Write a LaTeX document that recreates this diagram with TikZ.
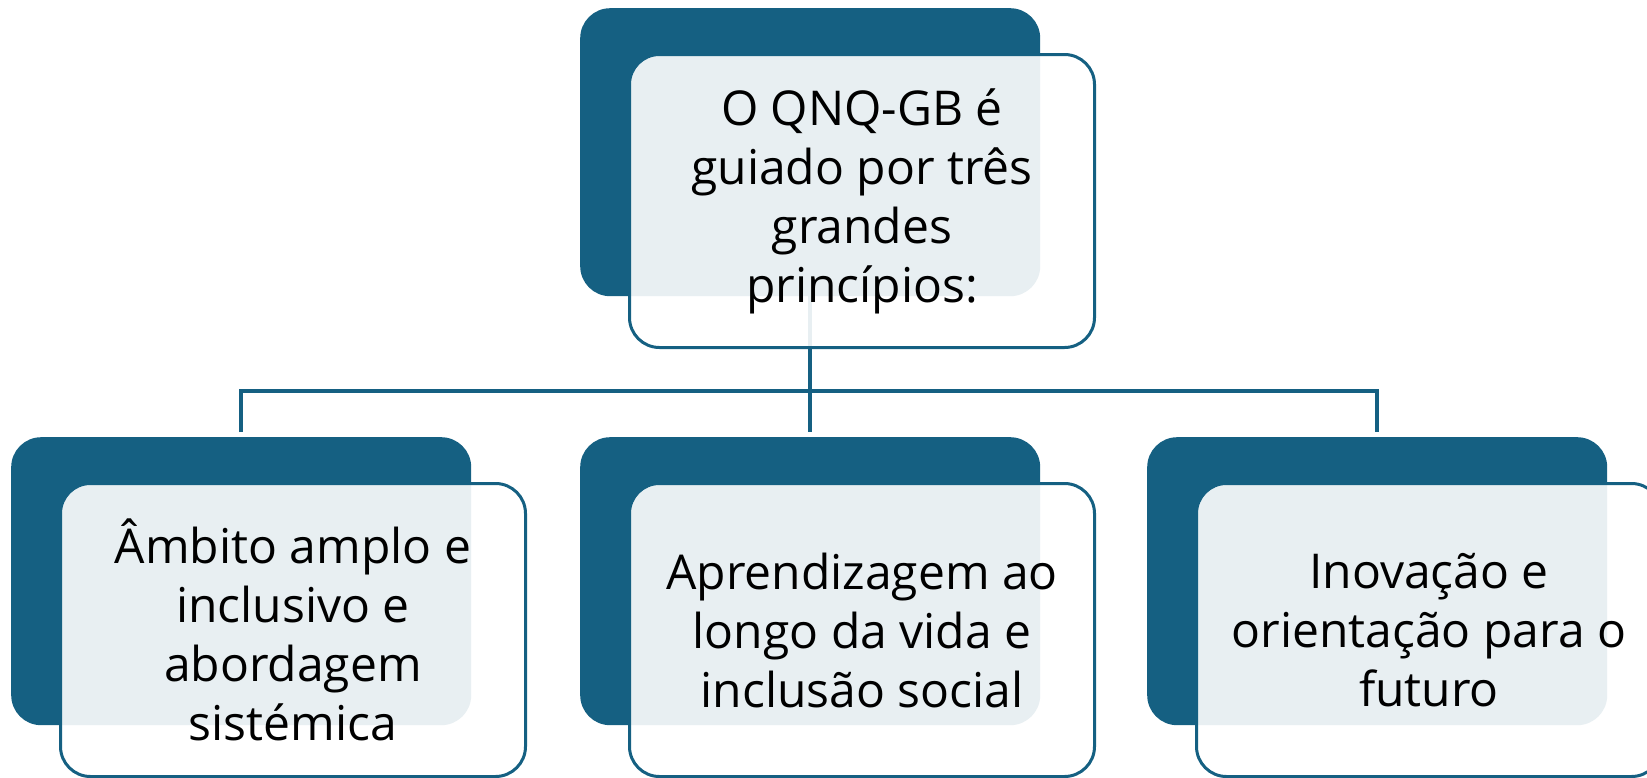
\documentclass[tikz,border=0pt]{standalone}
\usepackage{fontspec}
\setmainfont{Open Sans}
\definecolor{accent}{HTML}{156082}
\begin{document}
\begin{tikzpicture}[x=1pt,y=-1pt,
  darkbox/.style={fill=accent, rounded corners=30pt, minimum width=460pt, minimum height=288pt, inner sep=0pt, anchor=north west},
  lightbox/.style={fill=white, fill opacity=0.9, text opacity=1, draw=accent, line width=3pt, rounded corners=30pt, minimum width=465pt, minimum height=293pt, inner sep=0pt, align=center, anchor=north west, font=\fontsize{48}{59}\selectfont},
  link/.style={draw=accent, line width=3.5pt}]
\useasboundingbox (0,0) rectangle (1647,777);
\clip (0,0) rectangle (1647,777);
% dark back boxes
\node[darkbox] (d0) at (580,8) {};
\node[darkbox] (d1) at (11,437) {};
\node[darkbox] (d2) at (580,437) {};
\node[darkbox] (d3) at (1147,437) {};
% connectors
\coordinate (bus) at (0,391);
\draw[link] (d0.south) -- ([yshift=5pt]d2.north);
\draw[link] ([yshift=5pt]d1.north) |- (d0.south |- bus) -| ([yshift=5pt]d3.north);
% front boxes
\node[lightbox] (w0) at (628,53) {O QNQ-GB é\\guiado por três\\grandes\\princípios:};
\node[lightbox] (w1) at (59,482) {Âmbito amplo e\\inclusivo e\\abordagem\\sistémica};
\node[lightbox] (w2) at (628,482) {Aprendizagem ao\\longo da vida e\\inclusão social};
\node[lightbox] (w3) at (1195,482) {Inovação e\\orientação para o\\futuro};
\end{tikzpicture}
\end{document}
